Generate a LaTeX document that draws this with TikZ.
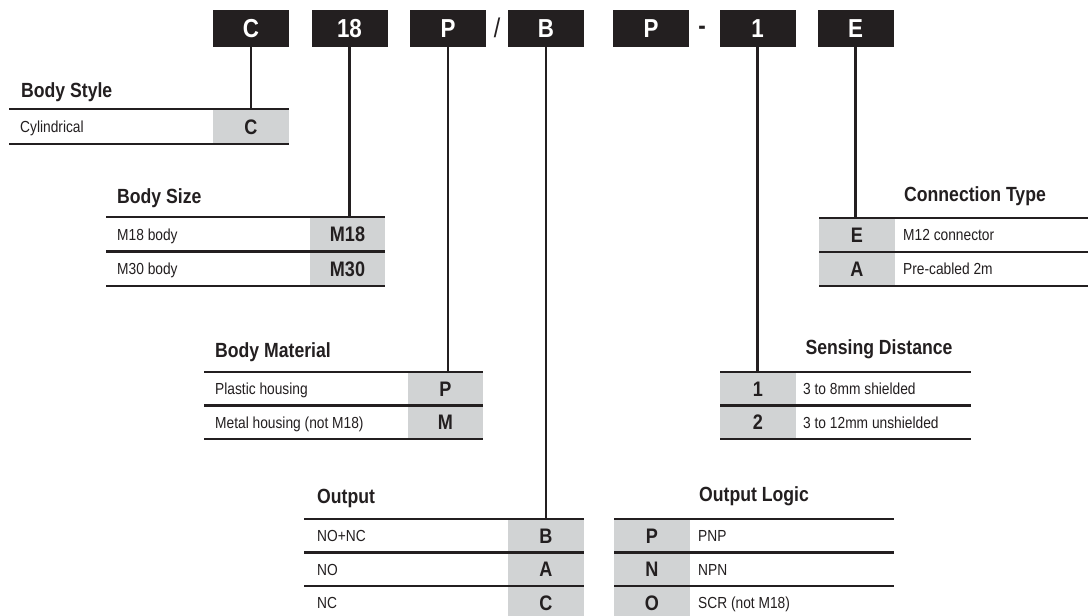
\documentclass[tikz,border=0pt]{standalone}
\usepackage{fontspec}
\setmainfont{Liberation Sans}[FakeStretch=0.86]
\definecolor{ink}{HTML}{231F20}
\definecolor{shade}{HTML}{D1D3D4}
\tikzset{
  codebox/.style={fill=ink, text=white, font=\bfseries\fontsize{26}{26}\selectfont,
    minimum width=76pt, minimum height=37pt, inner sep=0pt, text height=18.5pt, text depth=0pt},
  head/.style={text=ink, font=\bfseries\fontsize{20.5}{20.5}\selectfont, inner sep=0pt},
  cell/.style={fill=shade, text=ink, font=\bfseries\fontsize{21}{21}\selectfont,
    minimum width=76pt, inner sep=0pt, text height=15pt, text depth=0pt},
  entry/.style={text=ink, font=\fontsize{16}{16}\selectfont, anchor=west,
    inner sep=0pt, text height=11.5pt, text depth=0pt},
  rule/.style={ink, line width=2.6pt},
  link/.style={ink, line width=2.4pt},
}
\begin{document}
\begin{tikzpicture}[x=1pt, y=-1pt]
  \useasboundingbox[fill=white] (0,0) rectangle (1088,616);

  % code boxes on top
  \node[codebox] (codeC) at (251,28.5) {C};
  \node[codebox] (code18) at (349.5,28.5) {18};
  \node[codebox] (codeP) at (448,28.5) {P};
  \node[codebox] (codeB) at (546,28.5) {B};
  \node[codebox] (codeL) at (651,28.5) {P};
  \node[codebox] (code1) at (757.5,28.5) {1};
  \node[codebox] (codeE) at (855.5,28.5) {E};
  \node[text=ink, font=\fontsize{27}{27}\selectfont, inner sep=0pt] (slash) at (497,28) {/};
  \node[text=ink, font=\bfseries\fontsize{26}{26}\selectfont, inner sep=0pt] (dash) at (702,30) {-};

  % body style
  \node[head, anchor=base west] (hStyle) at (21,97) {Body Style};
  \node[cell, minimum height=35pt] (sty1) at (251,126.5) {C};
  \node[entry] (styt1) at (20,126.5) {Cylindrical};
  \foreach \y in {109,144} \draw[rule] (9,\y) -- (289,\y);

  % body size
  \node[head, anchor=base west] (hSize) at (117,203) {Body Size};
  \foreach \t/\c [count=\i] in {M18 body/M18, M30 body/M30} {
    \node[cell, minimum width=75pt, minimum height=34.5pt] (siz\i) at (347.5, 199.75+34.5*\i) {\c};
    \node[entry] (sizt\i) at (117, 199.75+34.5*\i) {\t};
  }
  \foreach \y in {217,251.5,286} \draw[rule] (106,\y) -- (385,\y);

  % body material
  \node[head, anchor=base west] (hMat) at (215,357) {Body Material};
  \foreach \t/\c [count=\i] in {Plastic housing/P, Metal housing (not M18)/M} {
    \node[cell, minimum width=75pt, minimum height=33.5pt] (mat\i) at (445.5, 355.25+33.5*\i) {\c};
    \node[entry] (matt\i) at (215, 355.25+33.5*\i) {\t};
  }
  \foreach \y in {372,405.5,439} \draw[rule] (204,\y) -- (483,\y);

  % output
  \node[head, anchor=base west] (hOut) at (317,503) {Output};
  \foreach \t/\c [count=\i] in {NO+NC/B, NO/A, NC/C} {
    \node[cell, minimum height=33.5pt] (out\i) at (546, 502.25+33.5*\i) {\c};
    \node[entry] (outt\i) at (317, 502.25+33.5*\i) {\t};
  }
  \foreach \y in {519,552.5,586} \draw[rule] (304,\y) -- (584,\y);

  % output logic
  \node[head, anchor=base] (hLog) at (754,501) {Output Logic};
  \foreach \c/\t [count=\i] in {P/PNP, N/NPN, O/SCR (not M18)} {
    \node[cell, minimum height=33.5pt] (log\i) at (652, 502.25+33.5*\i) {\c};
    \node[entry] (logt\i) at (698, 502.25+33.5*\i) {\t};
  }
  \foreach \y in {519,552.5,586} \draw[rule] (614,\y) -- (894,\y);

  % sensing distance
  \node[head, anchor=base] (hSen) at (879,354) {Sensing Distance};
  \foreach \c/\t [count=\i] in {1/3 to 8mm shielded, 2/3 to 12mm unshielded} {
    \node[cell, minimum height=33.5pt] (sen\i) at (758, 355.25+33.5*\i) {\c};
    \node[entry] (sent\i) at (803, 355.25+33.5*\i) {\t};
  }
  \foreach \y in {372,405.5,439} \draw[rule] (720,\y) -- (971,\y);

  % connection type
  \node[head, anchor=base] (hCon) at (975,201) {Connection Type};
  \foreach \c/\t [count=\i] in {E/M12 connector, A/Pre-cabled 2m} {
    \node[cell, minimum height=34pt] (con\i) at (857, 201+34*\i) {\c};
    \node[entry] (cont\i) at (903, 201+34*\i) {\t};
  }
  \foreach \y in {218,252,286} \draw[rule] (819,\y) -- (1088,\y);

  % links from code boxes
  \draw[link] (codeC.south) -- (sty1.north);
  \draw[link] (code18.south) -- (code18.south |- siz1.north);
  \draw[link] (codeP.south) -- (codeP.south |- mat1.north);
  \draw[link] (codeB.south) -- (codeB.south |- out1.north);
  \draw[link] (code1.south) -- (code1.south |- sen1.north);
  \draw[link] (codeE.south) -- (codeE.south |- con1.north);
\end{tikzpicture}
\end{document}
